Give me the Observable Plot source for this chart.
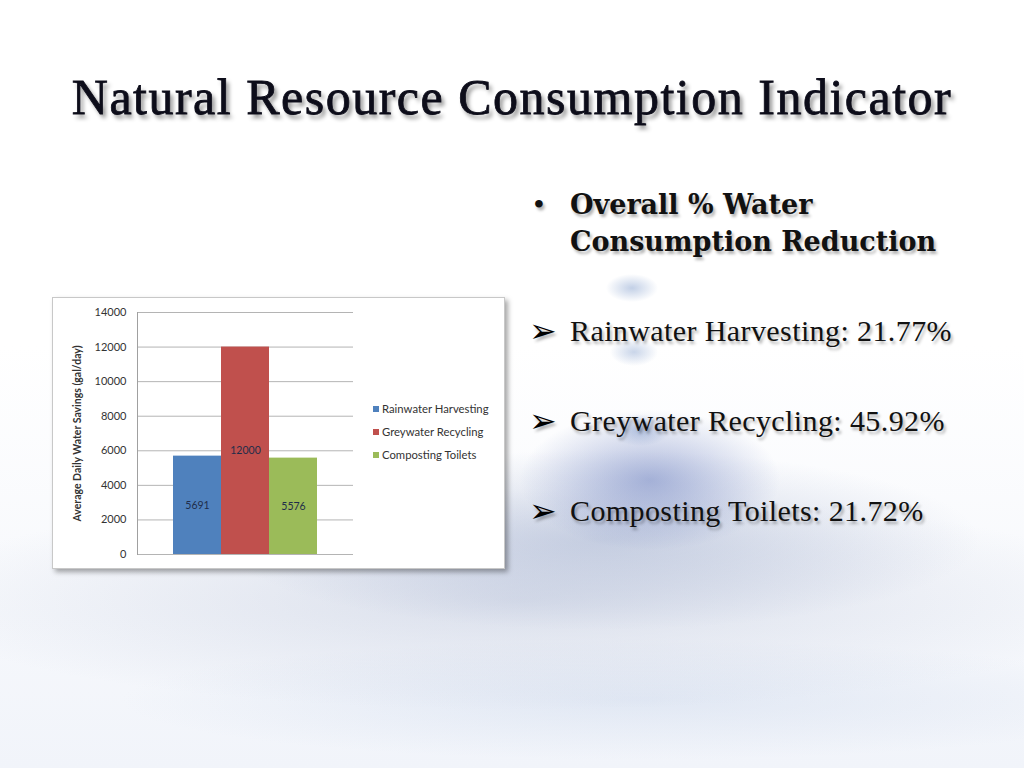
<!DOCTYPE html>
<html>
<head>
<meta charset="utf-8">
<script src="https://cdn.jsdelivr.net/npm/d3@7"></script>
<script src="https://cdn.jsdelivr.net/npm/@observablehq/plot@0.6"></script>
<style>
  html, body { margin: 0; padding: 0; }
  body {
    width: 1024px; height: 768px; overflow: hidden; position: relative;
    background:
      radial-gradient(ellipse 26px 14px at 632px 288px, rgba(120,150,200,0.45), rgba(255,255,255,0) 100%),
      radial-gradient(ellipse 24px 14px at 634px 352px, rgba(120,150,200,0.40), rgba(255,255,255,0) 100%),
      radial-gradient(ellipse 30px 16px at 640px 430px, rgba(110,140,195,0.45), rgba(255,255,255,0) 100%),
      radial-gradient(ellipse 130px 70px at 650px 480px, rgba(105,125,190,0.55), rgba(255,255,255,0) 100%),
      radial-gradient(ellipse 380px 90px at 600px 540px, rgba(150,165,200,0.45), rgba(255,255,255,0) 100%),
      radial-gradient(ellipse 620px 110px at 520px 600px, rgba(175,185,210,0.40), rgba(255,255,255,0) 100%),
      radial-gradient(ellipse 520px 60px at 640px 700px, rgba(190,205,230,0.35), rgba(255,255,255,0) 100%),
      linear-gradient(#ffffff 0%, #ffffff 45%, #f1f4fa 100%);
  }
  #title {
    position: absolute; left: 0; width: 1024px; top: 68px; text-align: center;
    font-family: "Liberation Serif", serif; font-size: 50px; letter-spacing: 1.5px; color: #0d0d1a;
    -webkit-text-stroke: 0.8px #0d0d1a;
    text-shadow: 3px 4px 4px rgba(0,0,0,0.45);
    white-space: nowrap;
  }
  .bul {
    position: absolute; font-family: "Liberation Serif", serif; color: #111;
    text-shadow: 2px 3px 3px rgba(0,0,0,0.3); white-space: nowrap;
  }
  #chartbox {
    position: absolute; left: 52px; top: 297px; width: 451px; height: 270px;
    background: #fff; border: 1px solid #c8c8c8;
    box-shadow: 3px 3px 5px rgba(0,0,0,0.35);
  }
  #chartbox svg { position: absolute; left: 0; top: 0; }
  #chartbox svg [aria-label="y-axis label"] text { font-weight: bold; font-size: 10.5px; }
  #chartbox svg [aria-label="y-axis tick label"] text { font-size: 11px; }
  #legend { position: absolute; left: 320px; top: 104px; font-family: Lato, sans-serif; font-size: 11.3px; color: #333; }
  #legend div { height: 23px; line-height: 13px; white-space: nowrap; }
  #legend span.sw { display: inline-block; width: 6px; height: 6px; margin-right: 3px; vertical-align: 1px; }
</style>
</head>
<body>
<div id="title">Natural Resource Consumption Indicator</div>

<div class="bul" style="left:534px; top:188px; font-size:28px; font-weight:bold;">•</div>
<div class="bul" style="left:570px; top:186px; font-size:27px; font-weight:bold; line-height:37px; font-family:'DejaVu Serif', serif;">Overall % Water<br>Consumption Reduction</div>

<div id="bullets"></div>

<div id="chartbox">
  <div id="legend"></div>
</div>

<script>
const categories = ["Rainwater Harvesting", "Greywater Recycling", "Composting Toilets"];
const values = [5691, 12000, 5576];
const colors = ["#4F81BD", "#C0504D", "#9BBB59"];
const yTicks = [0, 2000, 4000, 6000, 8000, 10000, 12000, 14000];
const percentLabels = ["21.77%", "45.92%", "21.72%"];

const data = categories.map((c, i) => ({category: c, value: values[i]}));

const chart = Plot.plot({
  width: 451,
  height: 270,
  marginLeft: 84,
  marginRight: 151,
  marginTop: 14,
  marginBottom: 14,
  style: {fontFamily: "Lato, sans-serif", fontSize: "10.5px", background: "transparent", color: "#333", overflow: "visible"},
  x: {domain: categories, paddingInner: 0, paddingOuter: 0.75, axis: null},
  y: {domain: [0, 14000]},
  color: {domain: categories, range: colors},
  marks: [
    Plot.gridY(yTicks, {stroke: "#b4b4b4", strokeOpacity: 1}),
    Plot.barY(data, {x: "category", y: "value", fill: "category"}),
    Plot.frame({anchor: "left", stroke: "#a0a0a0"}),
    Plot.axisY({
      ticks: yTicks, tickSize: 0, tickPadding: 11, tickFormat: d => String(d),
      label: "Average Daily Water Savings (gal/day)", labelAnchor: "center", labelArrow: "none", labelOffset: 64
    }),
    Plot.text(data, {x: "category", y: d => d.value / 2, text: d => String(d.value), fill: "#1f2d4a", fontSize: 10.5})
  ]
});
document.getElementById("chartbox").prepend(chart);

const legend = document.getElementById("legend");
categories.forEach((c, i) => {
  const row = document.createElement("div");
  row.innerHTML = `<span class="sw" style="background:${colors[i]}"></span>${c}`;
  legend.appendChild(row);
});

const bullets = document.getElementById("bullets");
categories.forEach((c, i) => {
  const top = 314 + i * 90;
  const a = document.createElement("div");
  a.className = "bul";
  a.style.cssText = `left:529px; top:${top - 3}px; font-size:33px; font-family:'DejaVu Sans'; color:#000;`;
  a.textContent = "➢";
  bullets.appendChild(a);
  const t = document.createElement("div");
  t.className = "bul";
  t.style.cssText = `left:570px; top:${top}px; font-size:30px; letter-spacing:0.4px;`;
  t.textContent = `${c}: ${percentLabels[i]}`;
  bullets.appendChild(t);
});
</script>
</body>
</html>
